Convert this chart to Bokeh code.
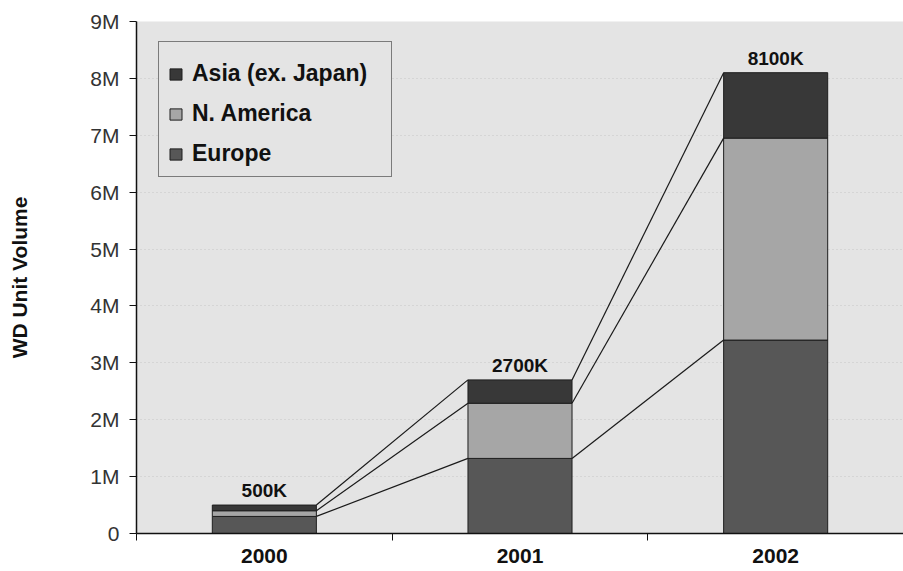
from bokeh.plotting import figure
from bokeh.models import FixedTicker, Legend, LegendItem, ColumnDataSource, Range1d
from bokeh.core.properties import value
from bokeh.embed import file_html
from bokeh.resources import INLINE

# ---- data (millions of units) ----
years = ["2000", "2001", "2002"]
europe = [0.30, 1.32, 3.40]
n_america = [0.10, 0.97, 3.55]
asia = [0.10, 0.41, 1.15]
total_labels = ["500K", "2700K", "8100K"]
series_names = ["Europe", "N. America", "Asia (ex. Japan)"]
y_ticks_m = [0, 1, 2, 3, 4, 5, 6, 7, 8, 9]
y_tick_labels = ["0", "1M", "2M", "3M", "4M", "5M", "6M", "7M", "8M", "9M"]

colors = {"Europe": "#575757", "N. America": "#a6a6a6", "Asia (ex. Japan)": "#383838"}
FONT = "Liberation Sans"
BAR_W = 0.407
M = 1e6

xs = [i + 0.5 for i in range(len(years))]
e_v = [v * M for v in europe]
n_v = [v * M for v in n_america]
a_v = [v * M for v in asia]

src = ColumnDataSource(dict(x=xs, Europe=e_v, NAm=n_v, Asia=a_v))

p = figure(width=903, height=571, output_backend="svg", toolbar_location=None,
           x_range=Range1d(0, 3), y_range=Range1d(0, 9 * M),
           min_border_left=136, min_border_right=0, min_border_top=21, min_border_bottom=38)
p.background_fill_color = "#e4e4e4"
p.border_fill_color = "white"
p.outline_line_color = None

# grid
p.xgrid.grid_line_color = None
p.ygrid.grid_line_color = "#c6c6c6"
p.ygrid.grid_line_dash = "1 3"

# stacked bars
renderers = p.vbar_stack(["Europe", "NAm", "Asia"], x="x", width=BAR_W, source=src,
                         fill_color=[colors[s] for s in series_names],
                         line_color="#1e1e1e", line_width=1)

# connector lines between bars at cumulative levels
cum_levels = []
for i in range(len(years)):
    c1 = e_v[i]
    c2 = c1 + n_v[i]
    c3 = c2 + a_v[i]
    cum_levels.append([c1, c2, c3])
x0, y0, x1, y1 = [], [], [], []
for i in range(len(years) - 1):
    for k in range(3):
        x0.append(xs[i] + BAR_W / 2)
        y0.append(cum_levels[i][k])
        x1.append(xs[i + 1] - BAR_W / 2)
        y1.append(cum_levels[i + 1][k])
p.segment(x0=x0, y0=y0, x1=x1, y1=y1, line_color="#1a1a1a", line_width=1.2)

# total labels
totals = [c[2] for c in cum_levels]
p.text(x=xs, y=totals, text=total_labels, text_align="center", text_baseline="bottom",
       y_offset=-4, text_font=value(FONT), text_font_style="bold",
       text_font_size="19px", text_color="#111111")

# axes
xa = p.xaxis[0]
xa.ticker = FixedTicker(ticks=xs, minor_ticks=[0, 1, 2, 3])
xa.major_label_overrides = {x: y for x, y in zip(xs, years)}
xa.major_tick_out = 0
xa.major_tick_in = 0
xa.minor_tick_out = 7
xa.minor_tick_in = 0
xa.minor_tick_line_color = "#111111"
xa.axis_line_color = "#111111"
xa.axis_line_width = 1.5
xa.major_label_text_font = FONT
xa.major_label_text_font_style = "bold"
xa.major_label_text_font_size = "21px"
xa.major_label_text_color = "#111111"
xa.major_label_standoff = 8

ya = p.yaxis[0]
yt = [v * M for v in y_ticks_m]
ya.ticker = FixedTicker(ticks=yt, minor_ticks=[])
ya.major_label_overrides = {t: l for t, l in zip(yt, y_tick_labels)}
ya.major_tick_out = 7
ya.major_tick_in = 0
ya.major_tick_line_color = "#111111"
ya.minor_tick_line_color = None
ya.axis_line_color = "#111111"
ya.axis_line_width = 1.5
ya.major_label_text_font = FONT
ya.major_label_text_font_size = "21px"
ya.major_label_text_color = "#333333"
ya.major_label_standoff = 10
ya.axis_label = "WD Unit Volume"
ya.axis_label_text_font = FONT
ya.axis_label_text_font_style = "bold"
ya.axis_label_text_font_size = "21px"
ya.axis_label_text_color = "#111111"
ya.axis_label_standoff = 56

# legend (Asia on top)
items = [LegendItem(label=series_names[2], renderers=[renderers[2]]),
         LegendItem(label=series_names[1], renderers=[renderers[1]]),
         LegendItem(label=series_names[0], renderers=[renderers[0]])]
legend = Legend(items=items, location=(22, 356))
legend.title = " "
legend.title_text_font_size = "8px"
legend.title_standoff = 0
legend.background_fill_color = "#e4e4e4"
legend.background_fill_alpha = 1
legend.border_line_color = "#111111"
legend.border_line_width = 1.5
legend.label_text_font = FONT
legend.label_text_font_style = "bold"
legend.label_text_font_size = "23px"
legend.label_text_color = "#111111"
legend.glyph_width = 15
legend.glyph_height = 14
legend.label_standoff = 9
legend.label_height = 26
legend.label_width = 190
legend.spacing = 13
legend.padding = 9
legend.margin = 0
p.add_layout(legend)

open("out.html", "w").write(file_html(p, INLINE))
